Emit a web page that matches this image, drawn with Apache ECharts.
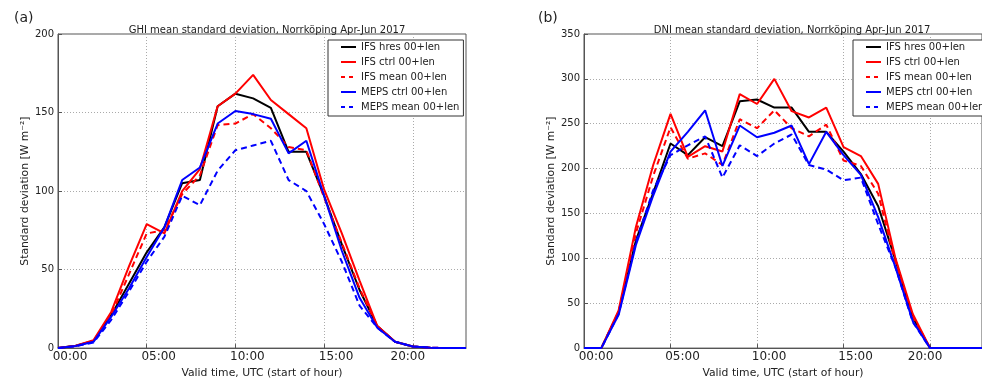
<!DOCTYPE html>
<html>
<head>
<meta charset="utf-8">
<script src="https://cdn.jsdelivr.net/npm/echarts@6/dist/echarts.min.js"></script>
<style>
html,body{margin:0;padding:0;background:#fff;}
#chart{width:982px;height:384px;}
</style>
</head>
<body>
<div id="chart"></div>
<script>
// ---- data ----
const hours = [0,1,2,3,4,5,6,7,8,9,10,11,12,13,14,15,16,17,18,19,20,21,22,23];
const seriesNames = ['IFS hres 00+len','IFS ctrl 00+len','IFS mean 00+len','MEPS ctrl 00+len','MEPS mean 00+len'];
const xTicks = [0,5,10,15,20];

// (a) GHI
const ghiIfsHres  = [0,1.5,4.5,21,41,61,77,105,107,154,162,159,153,125,125,97,66,37,14,4,1,0.3,0,0];
const ghiIfsCtrl  = [0,1.5,5,23,52,79,73,100,114,154,162,174,158,149,140,101,73,43,14,4,1,0.3,0,0];
const ghiIfsMean  = [0,1.3,4.5,21,47,73,75,98,110,142,143,149,140,128,126,96,67,38,14,4,1,0.3,0,0];
const ghiMepsCtrl = [0,1.3,4,20,38,58,77,107,115,143,151,149,146,124,132,97,62,32,13,4,1,0.3,0,0];
const ghiMepsMean = [0,1.2,3.5,18,36,55,71,97,91,113,126,129,132,107,100,79,55,27,13,4,1,0.3,0,0];

// (b) DNI
const dniIfsHres  = [0,0,40,120,173,228,215,235,225,275,277,268,268,241,241,219,194,158,98,34,0,0,0,0];
const dniIfsCtrl  = [0,0,42,135,204,261,213,225,219,283,272,300,264,257,268,224,214,183,100,38,0,0,0,0];
const dniIfsMean  = [0,0,40,128,192,246,211,217,204,255,245,265,245,236,249,209,203,172,95,35,0,0,0,0];
const dniMepsCtrl = [0,0,37,115,170,219,241,265,203,248,235,240,248,205,241,215,193,146,90,30,0,0,0,0];
const dniMepsMean = [0,0,38,118,176,215,226,236,190,226,214,228,238,204,199,187,190,138,90,29,0,0,0,0];

// ---- styling ----
const FONT = 'DejaVu Sans';
const TXT = '#222';
const styles = [
  {color:'#000000', type:'solid'},
  {color:'#ff0000', type:'solid'},
  {color:'#ff0000', type:[6,4]},
  {color:'#0000ff', type:'solid'},
  {color:'#0000ff', type:[6,4]}
];

function pairs(arr){ return hours.map((h,i)=>[h, arr[i]]); }
function pad2(v){ return (v<10?'0':'')+v+':00'; }

function makeSeries(arrs, idx){
  return arrs.map((a,i)=>({
    name: seriesNames[i], type:'line', xAxisIndex: idx, yAxisIndex: idx,
    data: pairs(a), symbol:'none', showSymbol:false, silent:true, animation:false,
    lineStyle:{color:styles[i].color, width:2, type:styles[i].type},
    itemStyle:{color:styles[i].color}, z: 3
  }));
}

function xAxis(idx){
  return {
    type:'value', gridIndex: idx, min:0, max:23, interval:5,
    name:'Valid time, UTC (start of hour)', nameLocation:'middle', nameGap:16,
    nameTextStyle:{fontFamily:FONT, fontSize:10.8, color:TXT},
    axisLine:{show:true, onZero:false, lineStyle:{color:'#555', width:1}},
    axisTick:{show:true, inside:true, length:4, lineStyle:{color:'#555'}},
    axisLabel:{
      fontFamily:FONT, fontSize:12, color:TXT, margin:3, showMaxLabel:false,
      formatter:(v)=> xTicks.indexOf(v) >= 0 ? (v===20 ? '{b|'+pad2(v)+'}' : '{a|'+pad2(v)+'}') : '',
      rich:{
        a:{fontFamily:FONT, fontSize:12, color:TXT, padding:[0,0,0,24]},
        b:{fontFamily:FONT, fontSize:12, color:TXT, padding:[0,10,0,0]}
      }
    },
    splitLine:{show:true, lineStyle:{color:'#aaa', type:[1,2], width:1}}
  };
}
function yAxis(idx, max){
  return {
    type:'value', gridIndex: idx, min:0, max:max, interval:50,
    name:'Standard deviation [W m\u207B\u00B2]', nameLocation:'middle', nameGap:26, nameRotate:90,
    nameTextStyle:{fontFamily:FONT, fontSize:10.8, color:TXT},
    axisLine:{show:true, lineStyle:{color:'#555', width:1}},
    axisTick:{show:true, inside:true, length:4, lineStyle:{color:'#555'}},
    axisLabel:{fontFamily:FONT, fontSize:10, color:TXT, margin:4},
    splitLine:{show:true, lineStyle:{color:'#aaa', type:[1,2], width:1}}
  };
}
function legend(left){
  return {
    data: seriesNames.map((n,i)=>({
      name:n,
      itemStyle:{opacity:0, borderWidth:0},
      lineStyle:{color:styles[i].color, width:2, type: i===2||i===4 ? [4,4] : 'solid', opacity:1}
    })),
    orient:'vertical', left:left, top:40,
    backgroundColor:'#fff', borderColor:'#333', borderWidth:1, borderRadius:0,
    padding:[1,4,3,12], itemWidth:15, itemHeight:12, itemGap:3,
    textStyle:{fontFamily:FONT, fontSize:10, color:TXT, lineHeight:12},
    selectedMode:false, z:10
  };
}

const chart = echarts.init(document.getElementById('chart'), null, {renderer:'canvas'});
chart.setOption({
  animation:false,
  backgroundColor:'#fff',
  title:[
    {text:'(a)', left:9, top:6, textStyle:{fontFamily:FONT, fontSize:14, fontWeight:'normal', color:TXT}},
    {text:'(b)', left:533, top:6, textStyle:{fontFamily:FONT, fontSize:14, fontWeight:'normal', color:TXT}},
    {text:'GHI mean standard deviation, Norrk\u00F6ping Apr-Jun 2017', left:262, textAlign:'center', top:20,
     textStyle:{fontFamily:FONT, fontSize:10, fontWeight:'normal', color:TXT}},
    {text:'DNI mean standard deviation, Norrk\u00F6ping Apr-Jun 2017', left:787, textAlign:'center', top:20,
     textStyle:{fontFamily:FONT, fontSize:10, fontWeight:'normal', color:TXT}}
  ],
  grid:[
    {left:58, top:34, width:408, height:318, show:true, borderColor:'#555', borderWidth:1, backgroundColor:'transparent'},
    {left:584, top:34, width:407, height:318, show:true, borderColor:'#555', borderWidth:1, backgroundColor:'transparent'}
  ],
  xAxis:[xAxis(0), xAxis(1)],
  yAxis:[yAxis(0,200), yAxis(1,350)],
  legend:[legend(328), legend(853)],
  series: makeSeries([ghiIfsHres, ghiIfsCtrl, ghiIfsMean, ghiMepsCtrl, ghiMepsMean], 0)
    .concat(makeSeries([dniIfsHres, dniIfsCtrl, dniIfsMean, dniMepsCtrl, dniMepsMean], 1))
});
</script>
</body>
</html>
